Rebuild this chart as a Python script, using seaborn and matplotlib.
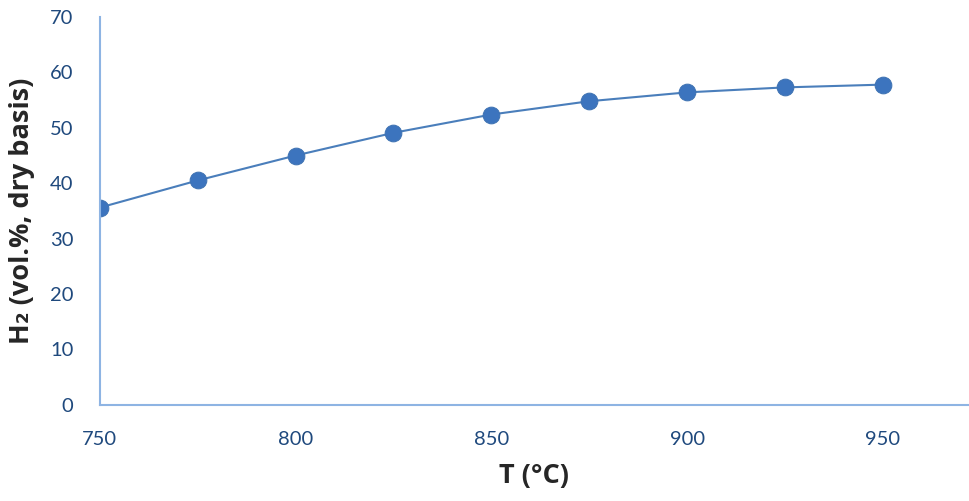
import matplotlib
matplotlib.use("Agg")
import matplotlib.pyplot as plt
import seaborn as sns
import pandas as pd

# temperature (°C) and H2 content (vol.%, dry basis)
temperature = [750, 775, 800, 825, 850, 875, 900, 925, 950]
h2_content = [35.6, 40.5, 45.0, 49.1, 52.4, 54.8, 56.4, 57.3, 57.8]

df = pd.DataFrame({"T": temperature, "H2": h2_content})

sns.set_style("white")
plt.rcParams["font.family"] = ["Lato", "DejaVu Sans"]

fig = plt.figure(figsize=(9.69, 5.01), dpi=100)
ax = fig.add_axes([0.103, 0.192, 0.897, 0.774])

sns.lineplot(data=df, x="T", y="H2", ax=ax, color="#4A7EBB", linewidth=1.5,
             marker="o", markersize=12, markeredgecolor="#3F73B3",
             markerfacecolor="#3C74BE")

ax.set_xlim(750, 972)
ax.set_ylim(0, 70)
ax.set_xticks([750, 800, 850, 900, 950])
ax.set_yticks(range(0, 71, 10))

for side in ["top", "right"]:
    ax.spines[side].set_visible(False)
for side in ["left", "bottom"]:
    ax.spines[side].set_color("#8EB4E3")
    ax.spines[side].set_linewidth(1.5)

ax.tick_params(axis="both", length=0, labelsize=14.5, labelcolor="#1F497D")
ax.tick_params(axis="y", pad=19)
ax.tick_params(axis="x", pad=19)

label_font = {"family": ["Open Sans", "DejaVu Sans"], "size": 19.5,
              "weight": "bold"}
ax.set_xlabel("T (°C)", fontdict=label_font, labelpad=11)
ax.set_ylabel("H\u2082 (vol.%, dry basis)", fontdict=label_font, labelpad=11)

fig.savefig("out.png", dpi=100)
